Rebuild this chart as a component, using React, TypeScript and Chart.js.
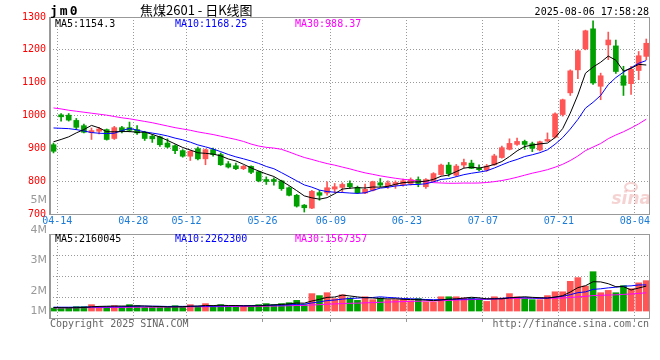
import { useEffect, useRef } from 'react';
import { Chart, registerables } from 'chart.js';

Chart.register(...registerables);

// ---------- data ----------
const dates = [
  '04-11', '04-14', '04-15', '04-16', '04-17', '04-18', '04-21', '04-22', '04-23', '04-24',
  '04-25', '04-28', '04-29', '04-30', '05-06', '05-07', '05-08', '05-09', '05-12', '05-13',
  '05-14', '05-15', '05-16', '05-19', '05-20', '05-21', '05-22', '05-23', '05-26', '05-27',
  '05-28', '05-29', '05-30', '06-03', '06-04', '06-05', '06-06', '06-09', '06-10', '06-11',
  '06-12', '06-13', '06-16', '06-17', '06-18', '06-19', '06-20', '06-23', '06-24', '06-25',
  '06-26', '06-27', '06-30', '07-01', '07-02', '07-03', '07-04', '07-07', '07-08', '07-09',
  '07-10', '07-11', '07-14', '07-15', '07-16', '07-17', '07-18', '07-21', '07-22', '07-23',
  '07-24', '07-25', '07-28', '07-29', '07-30', '07-31', '08-01', '08-04', '08-05',
];

const open = [
  911, 1002, 1001, 985, 969, 948, 952, 957, 930, 963, 963, 957, 949, 937, 935, 916, 908, 893, 876, 899,
  868, 896, 881, 853, 847, 838, 845, 829, 805, 805, 801, 780, 757, 727, 718, 765, 764, 776, 781, 793,
  781, 764, 772, 795, 786, 788, 790, 793, 805, 783, 800, 820, 849, 818, 849, 855, 839, 834, 850, 872,
  897, 912, 921, 914, 895, 922, 934, 1003, 1069, 1139, 1203, 1264, 1089, 1215, 1212, 1121, 1097, 1137, 1180,
];
const high = [
  916, 1006, 1006, 991, 974, 962, 964, 959, 967, 967, 980, 969, 952, 942, 937, 929, 911, 896, 894, 904,
  898, 901, 886, 860, 855, 848, 847, 831, 813, 810, 803, 783, 760, 729, 772, 772, 798, 793, 795, 801,
  785, 791, 800, 808, 801, 801, 806, 810, 813, 808, 826, 852, 857, 851, 867, 864, 850, 851, 882, 907,
  929, 931, 925, 919, 922, 947, 1008, 1050, 1139, 1200, 1260, 1288, 1129, 1254, 1230, 1150, 1150, 1195, 1233,
];
const low = [
  886, 983, 983, 957, 947, 927, 944, 925, 927, 947, 950, 942, 924, 918, 906, 901, 884, 873, 863, 865,
  850, 876, 848, 840, 835, 835, 823, 798, 790, 788, 772, 755, 721, 706, 716, 742, 757, 765, 765, 778,
  762, 762, 770, 783, 778, 778, 785, 788, 783, 778, 798, 818, 815, 814, 841, 838, 831, 830, 848, 870,
  895, 909, 897, 890, 892, 920, 932, 998, 1061, 1112, 1200, 1095, 1048, 1170, 1128, 1061, 1064, 1109, 1170,
];
const close = [
  891, 996, 986, 964, 949, 954, 959, 927, 963, 952, 955, 947, 930, 929, 911, 904, 893, 876, 891, 868,
  896, 881, 850, 843, 838, 845, 827, 801, 799, 799, 777, 757, 724, 719, 769, 757, 780, 783, 790, 783,
  765, 775, 798, 788, 795, 796, 801, 805, 793, 805, 823, 849, 823, 846, 857, 839, 835, 846, 877, 902,
  915, 921, 912, 900, 920, 927, 1005, 1048, 1136, 1197, 1258, 1099, 1121, 1230, 1134, 1092, 1141, 1182, 1220,
];

const ma5 = [
  920, 927, 935, 947, 957.2, 969.8, 962.4, 950.6, 950.4, 951, 951.2, 948.8, 949.4, 942.6, 934.4, 924.2,
  913.4, 902.6, 895, 886.4, 884.8, 882.4, 877.2, 867.6, 861.6, 851.4, 840.6, 830.8, 822, 814.2, 800.6,
  786.6, 771.2, 755.2, 749.2, 745.2, 749.8, 761.6, 775.8, 778.6, 780.2, 779.2, 782.2, 781.8, 784.2, 790.4,
  795.6, 797, 798, 800, 805.4, 815, 818.6, 829.2, 839.6, 842.8, 840, 844.6, 850.8, 859.8, 875, 892.2,
  905.4, 910, 913.6, 916, 932.8, 960, 1007.2, 1062.6, 1128.8, 1147.6, 1162.2, 1181, 1168.4, 1135.2,
  1143.6, 1155.8, 1153.8,
];
const ma10 = [
  962, 961, 960, 957, 953, 948, 946, 945, 946, 954.1, 960.5, 955.6, 950, 946.5, 942.7, 937.7, 931.1, 926,
  918.8, 910.4, 904.5, 897.9, 889.9, 881.3, 874, 868.1, 861.5, 854, 844.8, 837.9, 826, 813.6, 801, 788.6,
  781.7, 772.9, 768.2, 766.4, 765.5, 763.9, 762.7, 764.5, 771.9, 778.8, 781.4, 785.3, 787.4, 789.6, 789.9,
  792.1, 797.9, 805.3, 807.8, 813.6, 819.8, 824.1, 827.5, 831.6, 840, 849.7, 858.9, 866.1, 875, 880.4,
  886.7, 895.5, 912.5, 932.7, 958.6, 988.1, 1022.4, 1040.2, 1061.1, 1094.1, 1115.5, 1132, 1145.6, 1159, 1167.4,
];
const ma30 = [
  1023, 1020, 1016, 1013, 1010, 1007, 1004, 1001, 997, 993, 990, 986, 982, 978, 973, 968, 963, 959, 955,
  950, 946, 942, 937, 932, 927, 921, 913, 907, 903, 900.8, 897, 889, 880.3, 872.1, 866.1, 859.6, 853.6,
  848.8, 843, 837.4, 831.1, 825.3, 820.9, 816.2, 812.4, 808.8, 805.7, 803.3, 800.1, 798, 795.5, 794.5,
  793.6, 793.7, 794.3, 794.1, 794.4, 795.9, 798.5, 801.9, 806.5, 812, 818.2, 824.3, 829.3, 835, 842.5,
  851.3, 862.8, 876.6, 893.1, 903.9, 914.6, 929.4, 940.7, 950.5, 961.9, 974.4, 988.7,
];

const volume = [
  250000, 220000, 300000, 380000, 380000, 550000, 380000, 380000, 460000, 380000,
  550000, 460000, 320000, 320000, 320000, 380000, 460000, 380000, 550000, 380000,
  640000, 400000, 550000, 400000, 400000, 460000, 460000, 550000, 640000, 550000,
  640000, 720000, 920000, 550000, 1500000, 1330000, 1580000, 1070000, 1400000, 1120000,
  920000, 1230000, 980000, 1120000, 980000, 980000, 980000, 890000, 1070000, 780000,
  780000, 1230000, 1230000, 1230000, 1120000, 1120000, 980000, 830000, 1230000, 1120000,
  1500000, 1230000, 1070000, 980000, 980000, 1330000, 1660000, 1660000, 2560000, 2880000,
  2150000, 3390000, 1580000, 1780000, 1580000, 2190000, 1930000, 2430000, 2620000,
];
const volMa5 = [
  300000, 290000, 280000, 290000, 306000, 366000, 398000, 414000, 430000, 430000, 430000, 446000, 434000,
  406000, 394000, 360000, 360000, 372000, 418000, 430000, 482000, 470000, 504000, 474000, 478000, 442000,
  454000, 454000, 502000, 532000, 568000, 620000, 694000, 676000, 866000, 1004000, 1176000, 1206000,
  1376000, 1300000, 1218000, 1148000, 1130000, 1074000, 1046000, 1058000, 1008000, 990000, 980000, 940000,
  900000, 950000, 1018000, 1050000, 1118000, 1186000, 1136000, 1056000, 1056000, 1056000, 1132000, 1182000,
  1230000, 1180000, 1152000, 1118000, 1204000, 1322000, 1638000, 2018000, 2182000, 2528000, 2512000,
  2356000, 2096000, 2104000, 1812000, 1982000, 2150000,
];
const volMa10 = [
  330000, 330000, 330000, 330000, 340000, 350000, 350000, 360000, 360000, 368000, 398000, 422000, 424000,
  418000, 412000, 395000, 403000, 403000, 412000, 412000, 421000, 415000, 438000, 446000, 454000, 462000,
  462000, 479000, 488000, 505000, 505000, 537000, 574000, 589000, 699000, 786000, 898000, 950000, 1026000,
  1083000, 1111000, 1162000, 1168000, 1225000, 1173000, 1138000, 1078000, 1060000, 1027000, 993000, 979000,
  979000, 1004000, 1015000, 1029000, 1043000, 1043000, 1037000, 1053000, 1087000, 1159000, 1159000,
  1143000, 1118000, 1104000, 1125000, 1193000, 1276000, 1409000, 1585000, 1650000, 1866000, 1917000,
  1997000, 2057000, 2143000, 2170000, 2247000, 2253000,
];
const volMa30 = [
  270000, 270000, 280000, 280000, 290000, 290000, 300000, 300000, 310000, 310000, 320000, 330000, 330000,
  330000, 340000, 340000, 350000, 350000, 360000, 370000, 370000, 380000, 380000, 390000, 390000, 400000,
  400000, 410000, 420000, 428000, 441000, 458000, 479000, 484000, 522000, 548000, 588000, 611000, 642000,
  667000, 679000, 705000, 727000, 753000, 775000, 795000, 813000, 830000, 847000, 860000, 865000, 893000,
  915000, 943000, 967000, 989000, 1006000, 1016000, 1035000, 1054000, 1083000, 1100000, 1105000, 1119000,
  1102000, 1102000, 1105000, 1124000, 1163000, 1222000, 1263000, 1335000, 1355000, 1377000, 1397000,
  1437000, 1469000, 1520000, 1572000,
];

const tickDates = ['04-14', '04-28', '05-12', '05-26', '06-09', '06-23', '07-07', '07-21', '08-04'];
const priceTicks = [700, 800, 900, 1000, 1100, 1200, 1300];
const volAxisLabels = ['5M', '4M', '3M', '2M', '1M'];
const maNames = ['MA5', 'MA10', 'MA30'];
const priceMaLast = ['1154.3', '1168.25', '988.37'];
const volMaLast = ['2160045', '2262300', '1567357'];

const symbol = 'jm0';
const title = '焦煤2601 - 日K线图';
const timestamp = '2025-08-06 17:58:28';
const copyright = 'Copyright 2025 SINA.COM';
const siteUrl = 'http://finance.sina.com.cn';

// ---------- styles ----------
const UP = '#ff5555';
const DOWN = '#00a000';
const GRID = '#999999';
const FRAME = '#999999';
const XLBL = '#1a7bd8';
const MA_COLORS = ['#000000', '#0000ff', '#ff00ff'];
const MONO = "'DejaVu Sans Mono', monospace";
const X_MIN = -0.46;
const X_MAX = 78.36;

const tickVals = tickDates.map((d) => dates.indexOf(d) - 0.5);
const candleColor = close.map((c, i) => (c >= open[i] ? UP : DOWN));

function xAxis(showLabels: boolean, height: number) {
  return {
    type: 'linear',
    min: X_MIN,
    max: X_MAX,
    offset: false,
    afterBuildTicks: (s: any) => {
      s.ticks = tickVals.map((v) => ({ value: v }));
    },
    afterFit: (s: any) => {
      s.height = height;
    },
    grid: { color: GRID, lineWidth: 1, offset: false, drawTicks: !showLabels, tickLength: 4 },
    border: { display: false, dash: [1, 2] },
    ticks: {
      display: showLabels,
      autoSkip: false,
      maxRotation: 0,
      minRotation: 0,
      padding: 1,
      color: XLBL,
      font: { family: MONO, size: 10 },
      callback: (v: number) => {
        const i = tickVals.indexOf(v);
        return i >= 0 ? tickDates[i] : '';
      },
    },
  };
}

function lineDs(values: number[], color: string) {
  return {
    type: 'line',
    data: values.map((y, i) => ({ x: i, y })),
    borderColor: color,
    borderWidth: 1,
    pointRadius: 0,
    tension: 0,
    order: 0,
  };
}

const framePlugin = {
  id: 'frame',
  afterDatasetsDraw(chart: any) {
    const { ctx, chartArea } = chart;
    const l = Math.floor(chartArea.left);
    const t = Math.floor(chartArea.top);
    const r = Math.floor(chartArea.right);
    const b = Math.floor(chartArea.bottom);
    ctx.save();
    ctx.strokeStyle = FRAME;
    ctx.lineWidth = 1;
    ctx.strokeRect(l + 0.5, t + 0.5, r - l, b - t);
    ctx.fillStyle = FRAME;
    ctx.fillRect(l - 1, t, 2, b - t + 1);
    ctx.restore();
  },
};

function drawLegend(ctx: any, left: number, baseline: number, values: string[]) {
  ctx.font = `10px ${MONO}`;
  ctx.textAlign = 'left';
  ctx.textBaseline = 'alphabetic';
  maNames.forEach((n, i) => {
    ctx.fillStyle = MA_COLORS[i];
    ctx.fillText(`${n}:${values[i]}`, left + 5 + i * 120, baseline);
  });
}

const mainTextPlugin = {
  id: 'mainText',
  afterDraw(chart: any) {
    const { ctx, chartArea } = chart;
    ctx.save();
    ctx.fillStyle = '#000';
    ctx.textBaseline = 'alphabetic';
    ctx.textAlign = 'left';
    ctx.font = `bold 13px ${MONO}`;
    (ctx as any).letterSpacing = '2px';
    ctx.fillText(symbol, chartArea.left, 15);
    (ctx as any).letterSpacing = '0px';
    ctx.font = "13px 'Noto Sans CJK SC', sans-serif";
    ctx.fillText(title, 140, 15);
    ctx.font = `10px ${MONO}`;
    ctx.textAlign = 'right';
    ctx.fillText(timestamp, chartArea.right, 15);
    drawLegend(ctx, chartArea.left, chartArea.top + 10, priceMaLast);
    // watermark
    ctx.textAlign = 'right';
    ctx.font = "italic bold 17px 'DejaVu Sans', sans-serif";
    ctx.fillStyle = 'rgba(225, 110, 110, 0.3)';
    ctx.fillText('sina', chartArea.right + 2, 204);
    ctx.strokeStyle = 'rgba(225, 110, 110, 0.3)';
    ctx.lineWidth = 2;
    ctx.beginPath();
    ctx.ellipse(chartArea.right - 18, 187, 6, 4, 0, 0, Math.PI * 2);
    ctx.stroke();
    ctx.restore();
  },
};

const volTextPlugin = {
  id: 'volText',
  afterDraw(chart: any) {
    const { ctx, chartArea } = chart;
    ctx.save();
    drawLegend(ctx, chartArea.left, chartArea.top + 8, volMaLast);
    const offsets = [-34, -4, 26, 57, 77];
    ctx.font = "11px 'DejaVu Sans', sans-serif";
    ctx.fillStyle = '#999';
    ctx.textAlign = 'right';
    ctx.textBaseline = 'middle';
    volAxisLabels.forEach((t, i) => ctx.fillText(t, chartArea.left - 3, chartArea.top + offsets[i]));
    ctx.font = `10px ${MONO}`;
    ctx.fillStyle = '#666';
    ctx.textBaseline = 'alphabetic';
    ctx.textAlign = 'left';
    ctx.fillText(copyright, chartArea.left, chartArea.bottom + 9);
    ctx.textAlign = 'right';
    ctx.fillText(siteUrl, chartArea.right, chartArea.bottom + 9);
    ctx.restore();
  },
};

function mainConfig(): any {
  return {
    type: 'bar',
    data: {
      datasets: [
        lineDs(ma5, MA_COLORS[0]),
        lineDs(ma10, MA_COLORS[1]),
        lineDs(ma30, MA_COLORS[2]),
        {
          type: 'bar',
          data: dates.map((_, i) => ({ x: i, y: [open[i], close[i]] })),
          backgroundColor: candleColor,
          barThickness: 5,
          minBarLength: 1,
          grouped: false,
          borderWidth: 0,
          order: 1,
        },
        {
          type: 'bar',
          data: dates.map((_, i) => ({ x: i, y: [low[i], high[i]] })),
          backgroundColor: candleColor,
          barThickness: 1,
          grouped: false,
          borderWidth: 0,
          order: 2,
        },
      ],
    },
    options: {
      responsive: false,
      animation: false,
      devicePixelRatio: 1,
      events: [],
      layout: { padding: { top: 17, right: 11, left: 0, bottom: 0 } },
      plugins: { legend: { display: false }, tooltip: { enabled: false } },
      scales: {
        x: xAxis(true, 18),
        y: {
          type: 'linear',
          min: 700,
          max: 1300,
          afterBuildTicks: (s: any) => {
            s.ticks = priceTicks.map((v) => ({ value: v }));
          },
          afterFit: (s: any) => {
            s.width = 50;
          },
          grid: { color: GRID, lineWidth: 1, drawTicks: false },
          border: { display: false, dash: [1, 2] },
          ticks: {
            color: '#ff0000',
            font: { family: MONO, size: 10 },
            padding: 4,
            callback: (v: number) => String(v),
          },
        },
      },
    },
    plugins: [framePlugin, mainTextPlugin],
  };
}

function volConfig(): any {
  return {
    type: 'bar',
    data: {
      datasets: [
        lineDs(volMa5, MA_COLORS[0]),
        lineDs(volMa10, MA_COLORS[1]),
        lineDs(volMa30, MA_COLORS[2]),
        {
          type: 'bar',
          data: volume.map((v, i) => ({ x: i, y: v })),
          backgroundColor: candleColor,
          barThickness: 6,
          grouped: false,
          borderWidth: 0,
          order: 1,
        },
      ],
    },
    options: {
      responsive: false,
      animation: false,
      devicePixelRatio: 1,
      events: [],
      layout: { padding: { top: 44, right: 11, left: 0, bottom: 0 } },
      plugins: { legend: { display: false }, tooltip: { enabled: false } },
      scales: {
        x: xAxis(false, 42),
        y: {
          type: 'linear',
          min: -600000,
          max: 6640000,
          afterBuildTicks: (s: any) => {
            const step = (s.max - s.min) / 4;
            s.ticks = [0, 1, 2, 3, 4].map((i) => ({ value: s.min + i * step }));
          },
          afterFit: (s: any) => {
            s.width = 50;
          },
          grid: { color: GRID, lineWidth: 1, drawTicks: false },
          border: { display: false, dash: [1, 2] },
          ticks: { display: false },
        },
      },
    },
    plugins: [framePlugin, volTextPlugin],
  };
}

export default function App() {
  const mainRef = useRef<HTMLCanvasElement>(null);
  const volRef = useRef<HTMLCanvasElement>(null);

  useEffect(() => {
    const main = new Chart(mainRef.current as HTMLCanvasElement, mainConfig());
    const vol = new Chart(volRef.current as HTMLCanvasElement, volConfig());
    return () => {
      main.destroy();
      vol.destroy();
    };
  }, []);

  return (
    <div
      style={{
        position: 'absolute',
        left: 0,
        top: 0,
        width: 660,
        height: 360,
        background: '#ffffff',
        overflow: 'hidden',
      }}
    >
      <canvas ref={mainRef} width={660} height={232} style={{ position: 'absolute', left: 0, top: 0 }} />
      <canvas ref={volRef} width={660} height={170} style={{ position: 'absolute', left: 0, top: 190 }} />
    </div>
  );
}
